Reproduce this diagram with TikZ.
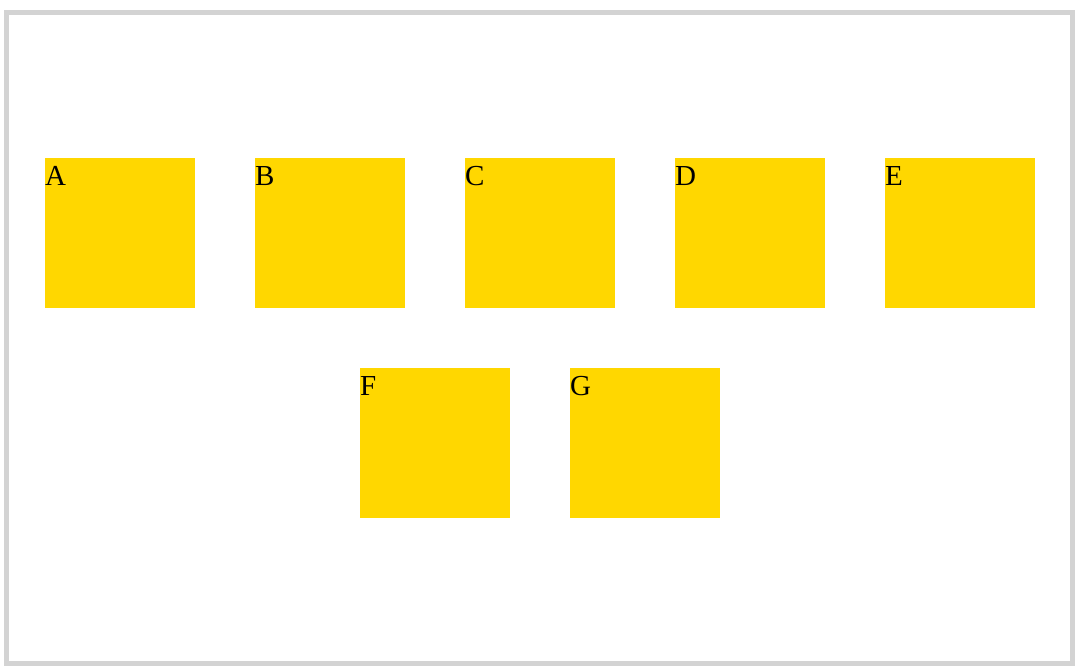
\documentclass[tikz,border=0pt]{standalone}
\usepackage{fontspec}
\setmainfont{Liberation Serif}
\usepackage{xcolor}
\usepackage{tikz}
\usetikzlibrary{positioning}
\definecolor{gold}{HTML}{FFD700}
\definecolor{framegray}{HTML}{D3D3D3}

\begin{document}
\begin{tikzpicture}[x=1pt, y=-1pt,
  box/.style={fill=gold, draw=none, minimum size=150pt, inner sep=0pt, outer sep=0pt},
  tag/.style={anchor=base west, inner sep=0pt, font=\fontsize{29}{33}\selectfont}]
\useasboundingbox (0,0) rectangle (1079,669);
\draw[framegray, line width=5pt] (6,12.5) rectangle (1072.5,663.5);
% top row
\node[box] (A) at (120,233) {};
\node[box, right=60pt of A] (B) {};
\node[box, right=60pt of B] (C) {};
\node[box, right=60pt of C] (D) {};
\node[box, right=60pt of D] (E) {};
% bottom row
\node[box] (F) at (435,443) {};
\node[box, right=60pt of F] (G) {};
% labels
\node[tag] (labA) at ([yshift=-27.5pt]A.north west) {A};
\node[tag] (labB) at ([yshift=-27.5pt]B.north west) {B};
\node[tag] (labC) at ([yshift=-27.5pt]C.north west) {C};
\node[tag] (labD) at ([yshift=-27.5pt]D.north west) {D};
\node[tag] (labE) at ([yshift=-27.5pt]E.north west) {E};
\node[tag] (labF) at ([yshift=-27.5pt]F.north west) {F};
\node[tag] (labG) at ([yshift=-27.5pt]G.north west) {G};
\end{tikzpicture}
\end{document}
